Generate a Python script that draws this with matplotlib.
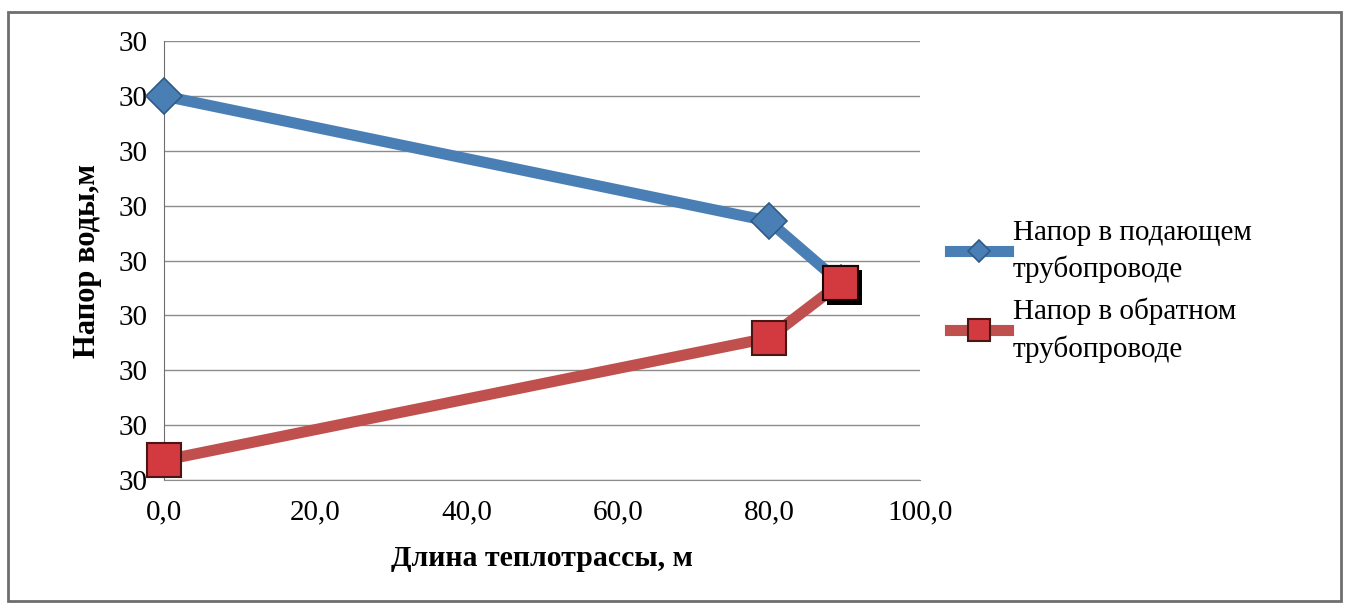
import numpy as np
import matplotlib.pyplot as plt
import matplotlib.patheffects as pe
from matplotlib.ticker import FormatStrFormatter, MultipleLocator
from matplotlib.patches import Rectangle

plt.rcParams['font.family'] = ['Liberation Serif', 'DejaVu Serif']

# Data
length_m = [0.0, 80.0, 89.5]
supply_head = [30.30, 30.072, 29.959]
return_head = [29.636, 29.859, 29.959]

label_supply = 'Напор в подающем\nтрубопроводе'
label_return = 'Напор в обратном\nтрубопроводе'

fig = plt.figure(figsize=(13.49, 6.06), dpi=100)
ax = fig.add_axes([0.1216, 0.208, 0.5604, 0.724])

# frame around the whole chart
fig.patches.append(Rectangle((0.006, 0.008), 0.988, 0.972, transform=fig.transFigure,
                             fill=False, edgecolor='#6e6e6e', linewidth=2))

ax.plot(length_m, supply_head, color='#4a7fb5', linewidth=8, marker='D',
        markersize=18, markerfacecolor='#4a7fb5', markeredgecolor='#2f5a85',
        markeredgewidth=1.2, label=label_supply, zorder=3, clip_on=False)
ax.plot(length_m, return_head, color='#c0504d', linewidth=8, marker='s',
        markersize=25, markerfacecolor='#d23a3f', markeredgecolor='#4a1515',
        markeredgewidth=1.5, label=label_return, zorder=4, clip_on=False)
# dark shadow under the end point, as in the original
ax.plot(length_m[-1:], return_head[-1:], linestyle='none', marker='s',
        markersize=25, markerfacecolor='#d23a3f', markeredgecolor='#1a0505',
        markeredgewidth=1.5, zorder=5,
        path_effects=[pe.SimplePatchShadow(offset=(3, -3), shadow_rgbFace='black', alpha=1.0),
                      pe.Normal()])

ax.set_xlim(0, 100)
ax.set_ylim(29.6, 30.4)
ax.xaxis.set_major_locator(MultipleLocator(20))
ax.yaxis.set_major_locator(MultipleLocator(0.1))
ax.xaxis.set_major_formatter(lambda v, p: '{:.1f}'.format(v).replace('.', ','))
ax.yaxis.set_major_formatter(FormatStrFormatter('%.0f'))
ax.tick_params(axis='both', length=0, labelsize=21, pad=12)
ax.tick_params(axis='x', pad=14)
ax.grid(axis='y', color='#8c8c8c', linewidth=1)
ax.set_axisbelow(True)

for s in ['top', 'right']:
    ax.spines[s].set_visible(False)
ax.spines['bottom'].set_color('#8c8c8c')
ax.spines['left'].set_color('#6e6e6e')

ax.set_xlabel('Длина теплотрассы, м', fontsize=21.5, fontweight='bold', labelpad=14)
ax.set_ylabel('Напор воды,м', fontsize=22, fontweight='bold', labelpad=12)

leg = ax.legend(loc='center left', bbox_to_anchor=(1.005, 0.43), frameon=False,
                fontsize=21, handlelength=2.0, handletextpad=0.15, labelspacing=0.5,
                markerscale=0.65)
for t in leg.get_texts():
    t.set_linespacing(1.45)

fig.savefig('out.png', dpi=100)
